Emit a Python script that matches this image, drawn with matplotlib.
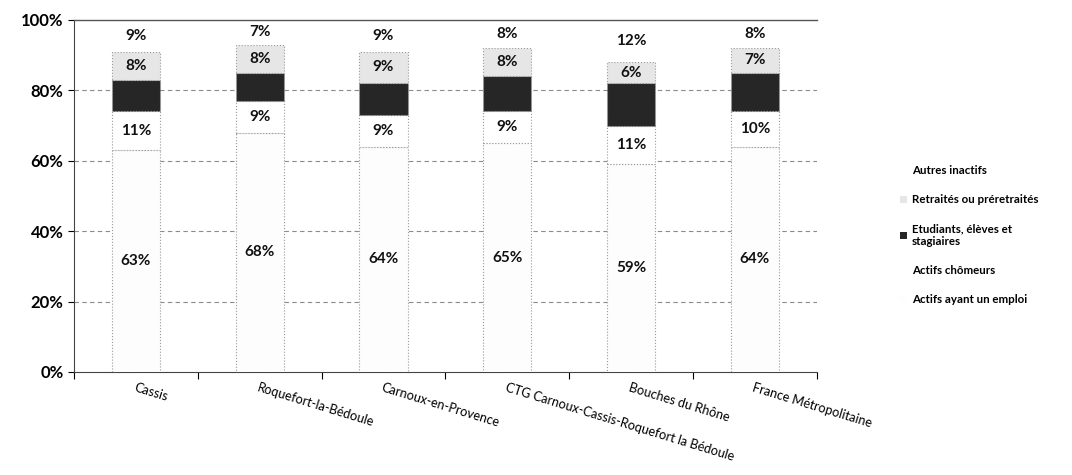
import numpy as np
import matplotlib
matplotlib.use("Agg")
import matplotlib.pyplot as plt
from matplotlib.patches import Patch

# Donnees (parts en %)
communes = ["Cassis", "Roquefort-la-Bédoule", "Carnoux-en-Provence",
            "CTG Carnoux-Cassis-Roquefort la Bédoule", "Bouches du Rhône",
            "France Métropolitaine"]
actifs_emploi = [63, 68, 64, 65, 59, 64]
actifs_chomeurs = [11, 9, 9, 9, 11, 10]
etudiants = [9, 8, 9, 10, 12, 11]
retraites = [8, 8, 9, 8, 6, 7]
autres_inactifs = [9, 7, 9, 8, 12, 8]

series = [
    ("Actifs ayant un emploi", actifs_emploi, "#fdfdfd", True),
    ("Actifs chômeurs", actifs_chomeurs, "#ffffff", True),
    ("Etudiants, élèves et\nstagiaires", etudiants, "#262626", False),
    ("Retraités ou préretraités", retraites, "#e6e6e6", True),
    ("Autres inactifs", autres_inactifs, "#ffffff", True),
]

plt.rcParams["font.family"] = ["Lato", "DejaVu Sans"]

fig = plt.figure(figsize=(10.72, 4.75), dpi=100)
ax = fig.add_axes([0.069, 0.217, 0.693, 0.741])

x = np.arange(len(communes))
bottom = np.zeros(len(communes))
handles = []
for name, vals, col, label in series:
    vals = np.array(vals, dtype=float)
    is_last = name == "Autres inactifs"
    ax.bar(x, vals, bottom=bottom, width=0.39, color=col,
           edgecolor="none" if is_last else "#9a9a9a",
           linewidth=0.8, linestyle=":", zorder=3)
    if label:
        for xi, b, v in zip(x, bottom, vals):
            ax.text(xi, b + v / 2, f"{int(v)}%", ha="center", va="center",
                    fontsize=11, fontweight="bold", color="#111111", zorder=4)
    handles.append(Patch(facecolor=col, edgecolor="none", label=name))
    bottom += vals

ax.set_xlim(-0.5, len(communes) - 0.5)
ax.set_ylim(0, 100)
ax.set_yticks(range(0, 101, 20))
ax.set_yticklabels([f"{v}%" for v in range(0, 101, 20)],
                   fontsize=12, fontweight="bold")
ax.set_xticks(np.arange(-0.5, len(communes), 1.0), minor=False)
ax.set_xticklabels([])
ax.set_xticks(x, minor=True)
ax.set_xticklabels(communes, minor=True, rotation=-17, ha="left",
                   rotation_mode="anchor", fontsize=9.2)
ax.tick_params(axis="x", which="minor", length=0, pad=7)
ax.tick_params(axis="x", which="major", length=5, direction="out")
ax.tick_params(axis="y", length=4, direction="out")

for yv in range(20, 100, 20):
    ax.axhline(yv, color="#8c8c8c", linestyle=(0, (4, 3)), linewidth=0.8,
               zorder=1)
ax.axhline(100, color="#555555", linewidth=1.0, zorder=5, clip_on=False)

for s in ["top", "right"]:
    ax.spines[s].set_visible(False)
ax.spines["left"].set_color("#444444")
ax.spines["bottom"].set_color("#444444")

fig.legend(handles=handles[::-1], loc="center left",
           bbox_to_anchor=(0.83, 0.505), frameon=False,
           handlelength=0.6, handleheight=0.6, handletextpad=0.4,
           labelspacing=1.55, prop={"weight": "bold", "size": 8.3})

fig.savefig("out.png", dpi=100)
